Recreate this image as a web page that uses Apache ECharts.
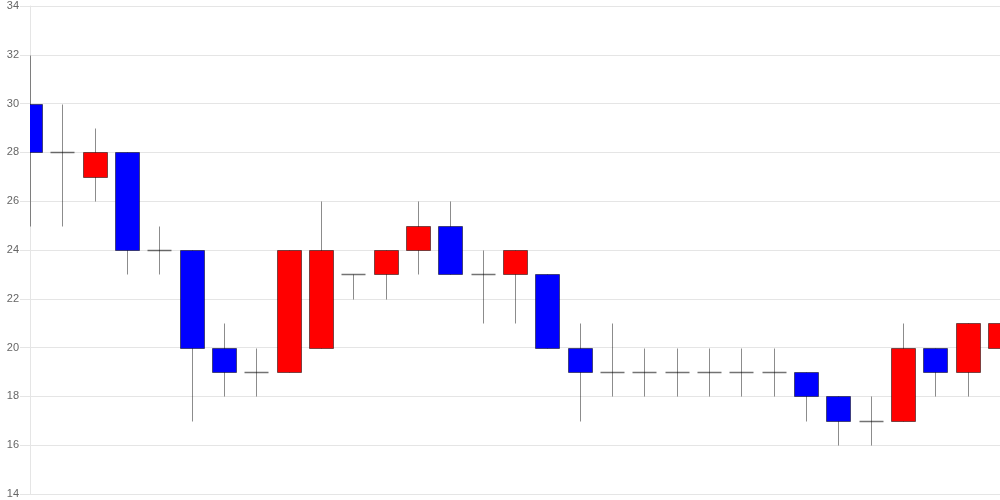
<!DOCTYPE html>
<html>
<head>
<meta charset="utf-8">
<script src="https://cdn.jsdelivr.net/npm/echarts@6/dist/echarts.min.js"></script>
<style>html,body{margin:0;padding:0;background:#fff}#c{width:1000px;height:500px}</style>
</head>
<body>
<div id="c"></div>
<script>
const categories = ['1','2','3','4','5','6','7','8','9','10','11','12','13','14','15','16','17','18','19','20','21','22','23','24','25','26','27','28','29','30','31'];
const opens  = [30,28,27,28,24,24,20,19,19,20,23,23,24,25,23,23,23,20,19,19,19,19,19,19,19,18,17,17,20,19,20];
const closes = [28,28,28,24,24,20,19,19,24,24,23,24,25,23,23,24,20,19,19,19,19,19,19,19,18,17,17,20,19,21,21];
const lows   = [25,25,26,23,23,17,18,18,19,20,22,22,23,23,21,21,20,17,18,18,18,18,18,18,17,16,16,17,18,18,19];
const highs  = [32,30,29,28,25,24,21,20,24,26,23,24,26,26,24,24,23,21,21,20,20,20,20,20,19,18,18,21,20,21,21];
const yTicks = {min: 14, max: 34, step: 2};

const data = categories.map((c, i) => [i, opens[i], closes[i], lows[i], highs[i]]);
const UP = '#ff0000', DOWN = '#0000ff';

function renderItem(params, api) {
  const idx = api.value(0);
  const o = api.value(1), c = api.value(2), l = api.value(3), h = api.value(4);
  const pO = api.coord([idx, o]), pC = api.coord([idx, c]);
  const pL = api.coord([idx, l]), pH = api.coord([idx, h]);
  const w = Math.round(api.size([1, 0])[0] * 0.73);
  const cx = Math.round(pO[0]) + 0.5;
  const left = Math.round(pO[0] - w / 2) + 0.5;
  const children = [];
  children.push({
    type: 'line',
    shape: {x1: cx, y1: Math.round(pH[1]) + 0.5, x2: cx, y2: Math.round(pL[1]) + 0.5},
    style: {stroke: 'rgba(0,0,0,0.45)', lineWidth: 1}
  });
  if (o === c) {
    const y = Math.round(pO[1]) + 0.5;
    children.push({
      type: 'line',
      shape: {x1: left, y1: y, x2: left + w, y2: y},
      style: {stroke: 'rgba(0,0,0,0.55)', lineWidth: 1.5}
    });
  } else {
    const yTop = Math.round(Math.min(pO[1], pC[1])) + 0.5;
    const yBot = Math.round(Math.max(pO[1], pC[1])) + 0.5;
    children.push({
      type: 'rect',
      shape: {x: left, y: yTop, width: w, height: yBot - yTop},
      style: {fill: c > o ? UP : DOWN, stroke: 'rgba(0,0,0,0.5)', lineWidth: 1}
    });
  }
  return {type: 'group', children: children};
}

const chart = echarts.init(document.getElementById('c'), null, {renderer: 'canvas'});
chart.setOption({
  animation: false,
  grid: {left: 30, right: 0, top: 6, bottom: 6, containLabel: false},
  xAxis: {
    type: 'category', data: categories, boundaryGap: false,
    axisLine: {show: true, lineStyle: {color: '#e5e5e5'}},
    axisTick: {show: false}, axisLabel: {show: false}, splitLine: {show: false}
  },
  yAxis: {
    type: 'value', min: yTicks.min, max: yTicks.max, interval: yTicks.step,
    axisLine: {show: true, lineStyle: {color: '#e5e5e5'}},
    axisTick: {show: true, length: 10, lineStyle: {color: '#e5e5e5'}},
    axisLabel: {margin: 11, color: '#666', fontSize: 11, fontFamily: 'Liberation Sans, Arial, sans-serif', padding: [0,0,2,0]},
    splitLine: {show: true, lineStyle: {color: '#e5e5e5'}}
  },
  series: [{
    type: 'custom', data: data, clip: true,
    encode: {x: 0, y: [1, 2, 3, 4]},
    renderItem: renderItem
  }]
});
</script>
</body>
</html>
